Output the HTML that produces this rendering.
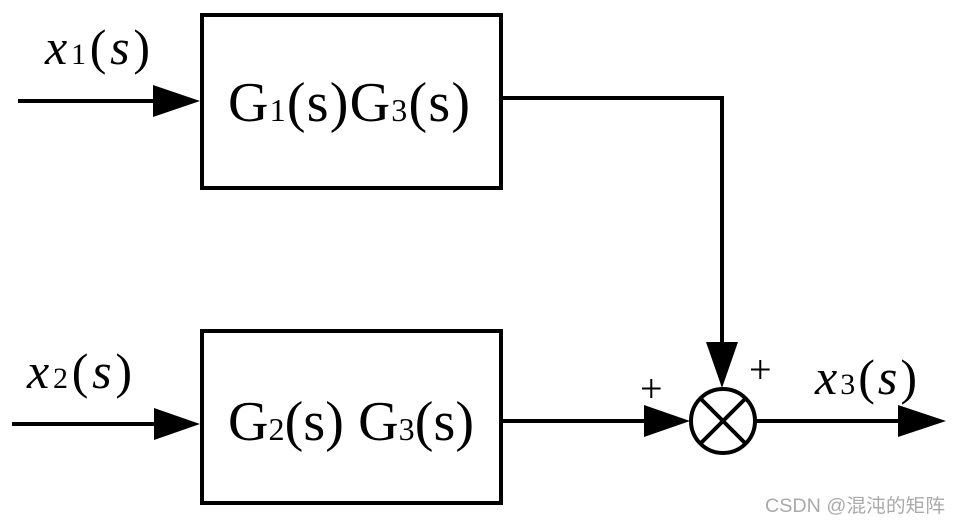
<!DOCTYPE html>
<html><head><meta charset="utf-8"><style>
html,body{margin:0;padding:0;background:#fff;}
svg{display:block;}
.t{font-family:"Liberation Serif","Times New Roman",serif;}
.w{font-family:"Liberation Sans","Noto Sans CJK SC",sans-serif;}
</style></head><body>
<svg width="961" height="525" viewBox="0 0 961 525" xmlns="http://www.w3.org/2000/svg">
<g fill="none" stroke="#000" stroke-width="4">
<rect x="202" y="15" width="299" height="173"/>
<rect x="202" y="331" width="299" height="172"/>
<polyline points="501,98 722,98 722,345"/>
<line x1="18" y1="101" x2="160" y2="101"/>
<line x1="12" y1="424" x2="160" y2="424"/>
<line x1="501" y1="421" x2="650" y2="421"/>
<line x1="756" y1="421" x2="905" y2="421"/>
<circle cx="723" cy="421" r="32"/>
<line x1="700" y1="398" x2="746" y2="444"/>
<line x1="746" y1="398" x2="700" y2="444"/>
</g>
<g fill="#000">
<polygon points="153,85 200,101 153,117"/>
<polygon points="154,408 200,424 154,440"/>
<polygon points="644,405 690,421 644,437"/>
<polygon points="898,405 946,421 898,437"/>
<polygon points="706,342 738,342 722,388"/>
</g>
<g class="t" fill="#000">
<text x="45" y="64" font-size="50" textLength="105" lengthAdjust="spacing"><tspan font-style="italic">x</tspan><tspan font-size="30">1</tspan>(<tspan font-style="italic">s</tspan>)</text>
<text x="27" y="388" font-size="50" textLength="105" lengthAdjust="spacing"><tspan font-style="italic">x</tspan><tspan font-size="30">2</tspan>(<tspan font-style="italic">s</tspan>)</text>
<text x="815" y="394" font-size="50" textLength="102" lengthAdjust="spacing"><tspan font-style="italic">x</tspan><tspan font-size="30">3</tspan>(<tspan font-style="italic">s</tspan>)</text>
<text x="228" y="121" font-size="56" textLength="242" lengthAdjust="spacing">G<tspan font-size="32">1</tspan>(s)G<tspan font-size="32">3</tspan>(s)</text>
<text x="228" y="440" font-size="56" textLength="246" lengthAdjust="spacing">G<tspan font-size="32">2</tspan>(s) G<tspan font-size="32">3</tspan>(s)</text>
<text x="640" y="402" font-size="40">+</text>
<text x="749" y="383" font-size="40">+</text>
</g>
<text class="w" x="765" y="512" font-size="19" fill="#aaa" textLength="180" lengthAdjust="spacingAndGlyphs">CSDN @混沌的矩阵</text>
</svg>
</body></html>
